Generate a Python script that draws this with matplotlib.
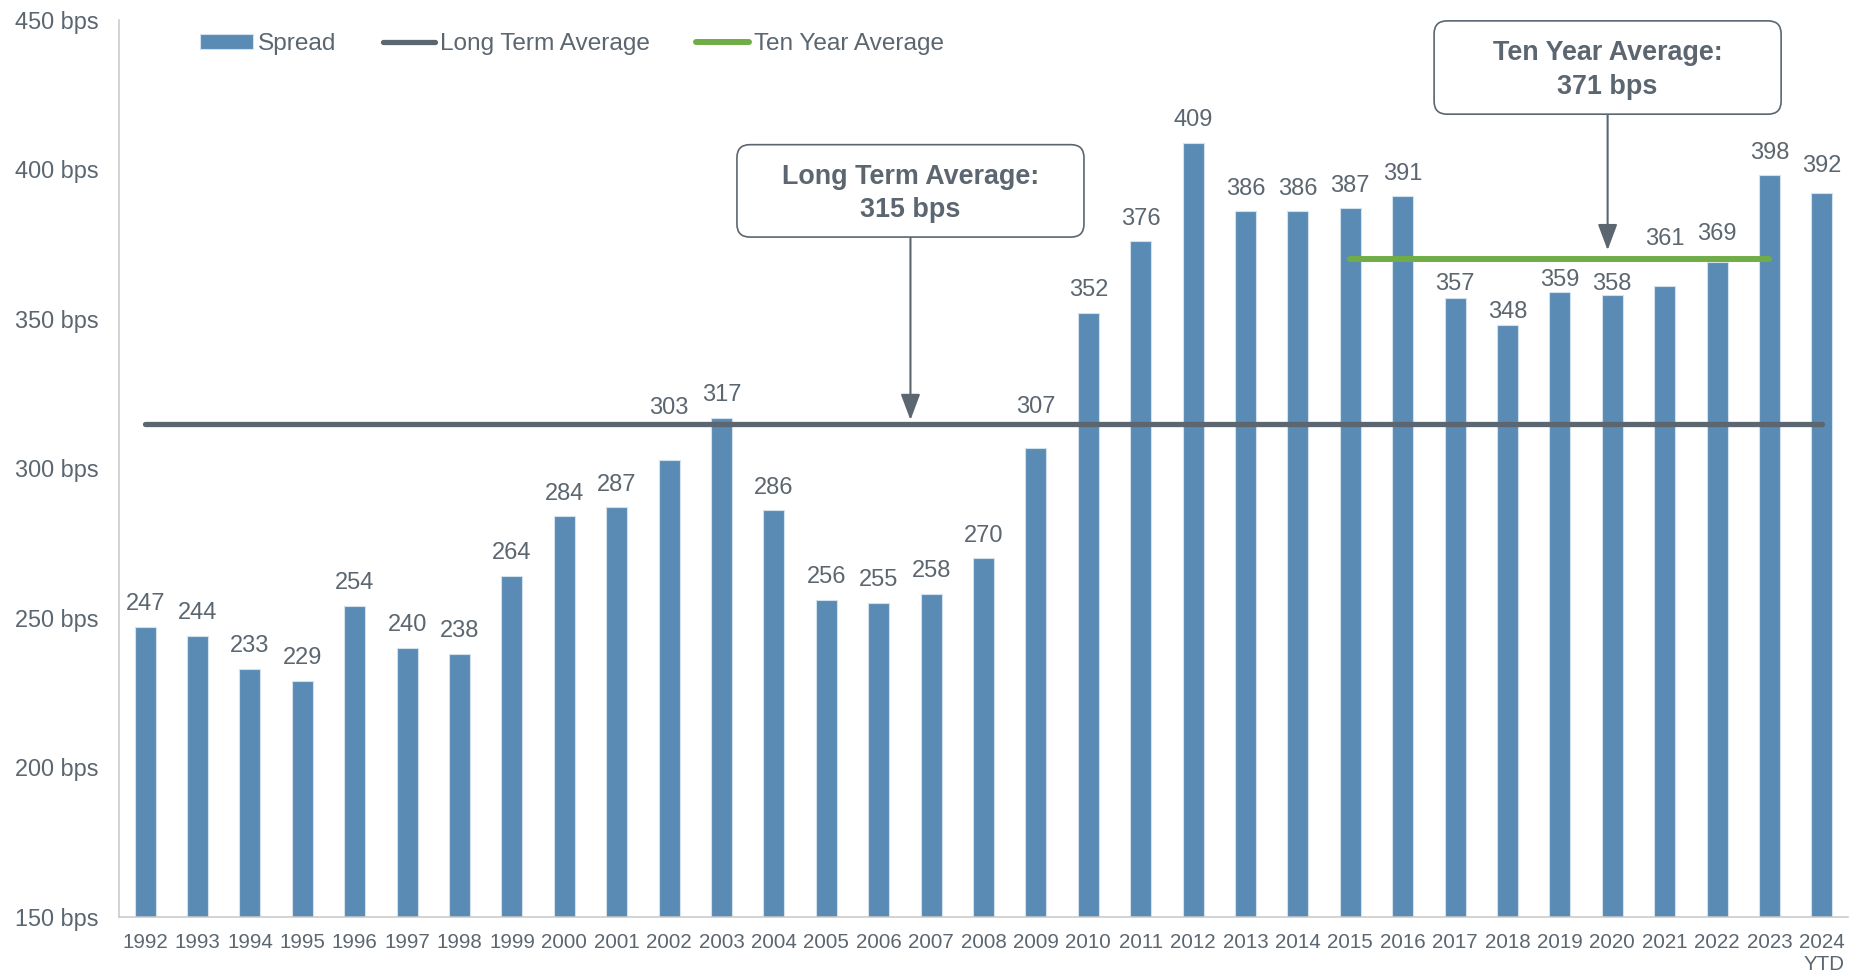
import matplotlib.pyplot as plt
from matplotlib.patches import FancyBboxPatch

plt.rcParams['font.family'] = ['Liberation Sans', 'DejaVu Sans']

# data
years = ['1992', '1993', '1994', '1995', '1996', '1997', '1998', '1999', '2000',
         '2001', '2002', '2003', '2004', '2005', '2006', '2007', '2008', '2009',
         '2010', '2011', '2012', '2013', '2014', '2015', '2016', '2017', '2018',
         '2019', '2020', '2021', '2022', '2023', '2024\nYTD']
spread = [247, 244, 233, 229, 254, 240, 238, 264, 284, 287, 303, 317, 286, 256,
          255, 258, 270, 307, 352, 376, 409, 386, 386, 387, 391, 357, 348, 359,
          358, 361, 369, 398, 392]
long_term_avg = 315
ten_year_avg = 371
ten_year_line = 370   # where the green line actually sits in the chart
ten_year_from = '2015'
ten_year_to = '2023'
y_ticks = [150, 200, 250, 300, 350, 400, 450]

# styling
bar_color = '#5A8BB5'
dark = '#5B6670'
green = '#70AD47'
text_color = '#5B6670'

# label offsets (points above bar top) where the default would collide
label_lift = {'2002': 37, '2009': 29, '2017': 10, '2018': 9.5, '2019': 9,
              '2020': 8, '2021': 34, '2022': 20, '2024\nYTD': 19.5}
default_lift = 16.3

fig = plt.figure(figsize=(18.62, 9.75), dpi=100)
ax = fig.add_axes([0.0639, 0.0595, 0.9286, 0.92])

x = list(range(len(years)))
bars = ax.bar(x, spread, width=0.4, color=bar_color, edgecolor='#D3E1EC',
              linewidth=0.8, label='Spread', zorder=2)

lt_line, = ax.plot([x[0], x[-1]], [long_term_avg, long_term_avg], color=dark,
                   lw=3.8, solid_capstyle='round', zorder=3,
                   label='Long Term Average')
i0, i1 = years.index(ten_year_from), years.index(ten_year_to)
ty_line, = ax.plot([i0, i1], [ten_year_line, ten_year_line], color=green,
                   lw=4.3, solid_capstyle='round', zorder=3,
                   label='Ten Year Average')

for xi, yr, v in zip(x, years, spread):
    ax.annotate(str(v), (xi, v), xytext=(0, label_lift.get(yr, default_lift)),
                textcoords='offset points', ha='center', va='center',
                fontsize=17, color=text_color, zorder=4)

ax.set_xlim(-0.5, len(years) - 0.5)
ax.set_ylim(y_ticks[0], y_ticks[-1])
ax.set_xticks(x)
ax.set_xticklabels(years, fontsize=14.8, color=text_color)
for lbl in ax.get_xticklabels():
    lbl.set_multialignment('right')
ax.set_yticks(y_ticks)
ax.set_yticklabels([f'{v} bps' for v in y_ticks], fontsize=16.9, color=text_color)
ax.tick_params(axis='x', length=0, pad=11.5)
ax.tick_params(axis='y', length=0, pad=15)

ax.spines[['top', 'right']].set_visible(False)
for s in ('left', 'bottom'):
    ax.spines[s].set_color('#C8C8C8')
    ax.spines[s].set_linewidth(1.1)

# callout boxes
aspect = 1729 / 897
callouts = [
    ((0.3574, 0.758, 0.2007, 0.103), f'Long Term Average:\n{long_term_avg} bps',
     long_term_avg, 2.6),
    ((0.7606, 0.895, 0.2007, 0.104), f'Ten Year Average:\n{ten_year_avg} bps',
     ten_year_line, 6.5),
]
for (bx, by, bw, bh), txt, target, shrink in callouts:
    box = FancyBboxPatch((bx, by), bw, bh,
                         boxstyle='round,pad=0,rounding_size=0.0075',
                         mutation_aspect=aspect, transform=ax.transAxes,
                         fc='white', ec=dark, lw=1.2, clip_on=False, zorder=5)
    ax.add_patch(box)
    cx = bx + bw / 2
    ax.text(cx, by + bh / 2 - 0.003, txt, transform=ax.transAxes, ha='center',
            va='center', fontsize=19.4, fontweight='bold', color=text_color,
            linespacing=1.38, zorder=6)
    ax.annotate('', xy=(cx, target), xycoords=(ax.transAxes, ax.transData),
                xytext=(cx, by), textcoords='axes fraction',
                arrowprops=dict(arrowstyle='-|>,head_length=1.6,head_width=0.6',
                                color=dark, lw=1.5, shrinkA=0, shrinkB=shrink,
                                mutation_scale=10),
                zorder=4)

ax.legend(handles=[bars, lt_line, ty_line], loc='center left',
          bbox_to_anchor=(0.047, 0.973), ncol=3, frameon=False, fontsize=17.6,
          handlelength=2.15, handleheight=0.53, handletextpad=0.2,
          columnspacing=1.9, borderpad=0, borderaxespad=0,
          labelcolor=text_color)

fig.savefig('out.png', dpi=100)
